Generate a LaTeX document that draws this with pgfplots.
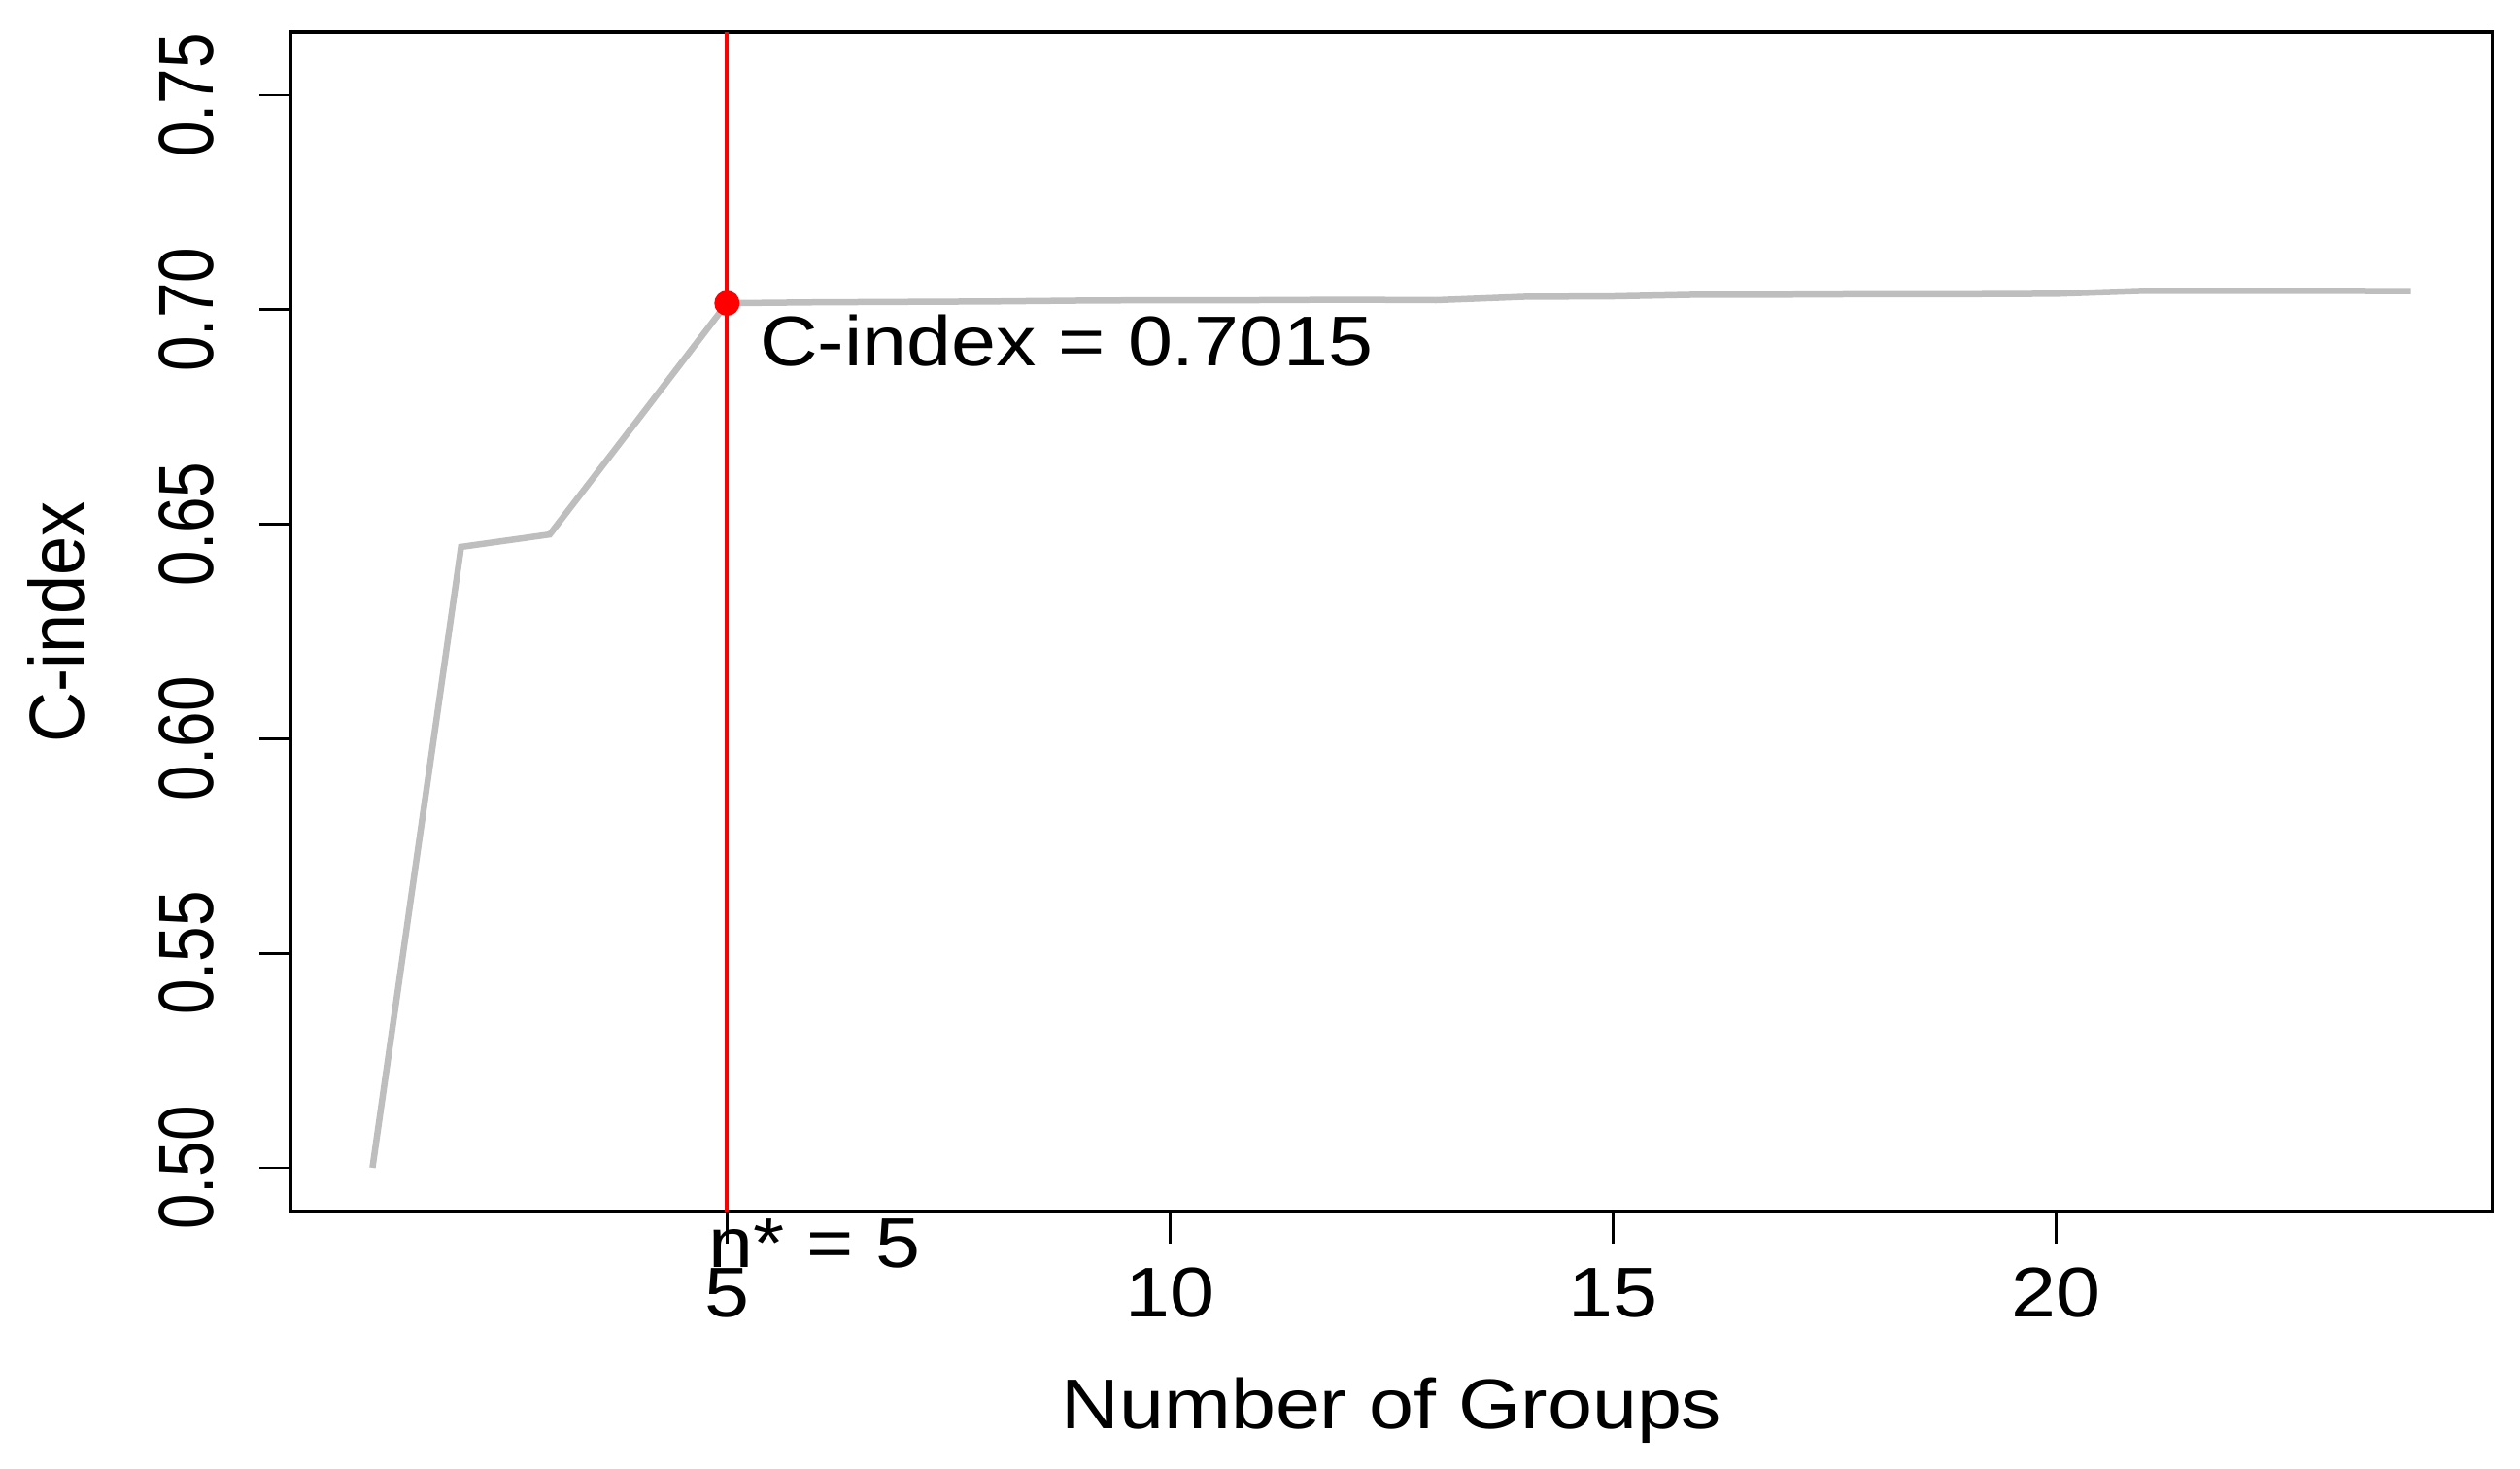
\documentclass[border=0pt]{standalone}
\usepackage{fontspec}
\setmainfont{Liberation Sans}[FakeStretch=1.14]
\newfontfamily\yfont{Liberation Sans}[FakeStretch=0.82]
\newfontfamily\ylfont{Liberation Sans}[FakeStretch=0.9]
\usepackage{pgfplots}
\pgfplotsset{compat=1.18}
\definecolor{lgray}{HTML}{BEBEBE}
\definecolor{rred}{HTML}{FF0000}
\begin{document}
\begin{tikzpicture}[font=\fontsize{14.5}{17}\selectfont]
\path[use as bounding box] (-59.9pt,-52.8pt) rectangle (458.9pt,249.4pt);
\begin{axis}[
  at={(0,0)}, anchor=south west,
  scale only axis, width=453.2pt, height=242.8pt,
  xmin=0.08, xmax=24.92, ymin=0.4898, ymax=0.7647,
  xtick={5,10,15,20},
  ytick={0.50,0.55,0.60,0.65,0.70,0.75},
  tick pos=left, tick align=outside, major tick length=6.5pt,
  axis line style={line width=0.7pt},
  every tick/.style={black, line width=0.55pt},
  clip=false,
  /pgf/number format/assume math mode=true,
  y tick label style={/pgf/number format/fixed, /pgf/number format/fixed zerofill, /pgf/number format/precision=2},
  yticklabel style={font=\yfont\fontsize{16}{16}\selectfont, rotate=90, anchor=base, inner sep=0pt},
  xticklabel style={anchor=base, inner sep=0pt},
  xticklabel shift=15.1pt,
  yticklabel shift=9.4pt,
  xlabel={Number of Groups},
  ylabel={C-index},
  every axis x label/.style={at={(axis description cs:0.5,-0.1837)}, anchor=base, inner sep=0pt},
  every axis y label/.style={at={(axis description cs:-0.0938,0.5)}, rotate=90, anchor=base, inner sep=0pt, font=\ylfont\fontsize{16}{16}\selectfont},
]
\addplot[lgray, line width=1.3pt] coordinates {
(1,0.5000) (2,0.6447) (3,0.6476) (4,0.6745) (5,0.7015)
(6,0.7017) (7,0.7018) (8,0.7019) (9,0.7021) (10,0.7022)
(11,0.7022) (12,0.7023) (13,0.7022) (14,0.7030) (15,0.7031)
(16,0.7035) (17,0.7035) (18,0.7036) (19,0.7036) (20,0.7037)
(21,0.7044) (22,0.7044) (23,0.7044) (24,0.7043)
};
\addplot[rred, line width=0.8pt] coordinates {(5,0.4898) (5,0.7647)};
\addplot[rred, only marks, mark=*, mark size=2.4pt] coordinates {(5,0.7015)};
\node[anchor=base west, inner sep=0pt] at (axis cs:5.36,0.687) {C-index = 0.7015};
\node[anchor=base west, inner sep=0pt] at (axis cs:4.78,0.4768) {n* = 5};
\end{axis}
\end{tikzpicture}
\end{document}
